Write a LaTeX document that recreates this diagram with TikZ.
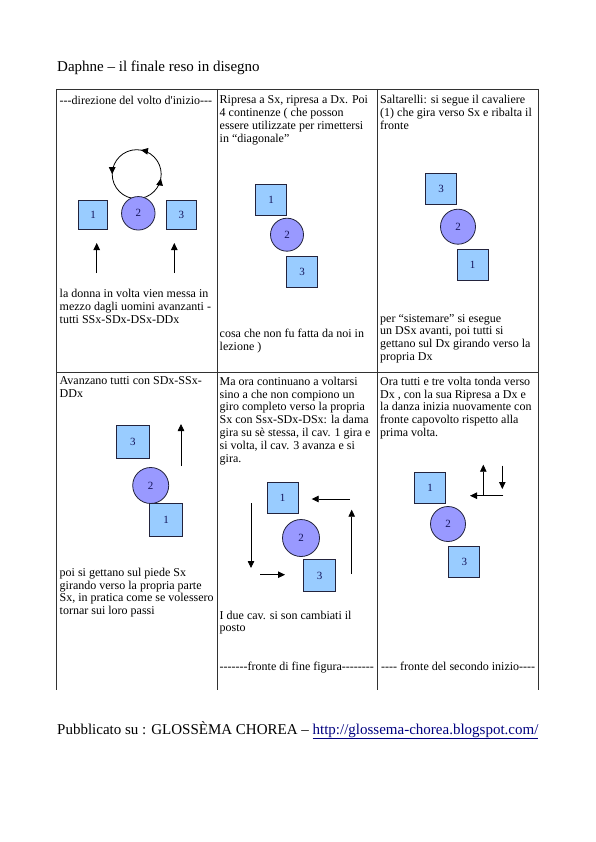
\documentclass[tikz,border=0pt]{standalone}
\usepackage{fontspec}
\setmainfont{Liberation Serif}[Ligatures=TeXOff]
\usetikzlibrary{arrows.meta}
\definecolor{sqfill}{RGB}{153,204,255}
\definecolor{cfill}{RGB}{153,153,255}
\definecolor{shapeline}{RGB}{35,35,60}
\definecolor{numcol}{RGB}{20,20,90}
\definecolor{linkcol}{RGB}{0,0,128}
\definecolor{rulecol}{RGB}{50,50,50}
\begin{document}
\begin{tikzpicture}[x=1pt,y=-1pt,
  sq/.style={draw=shapeline, line width=0.8pt, fill=sqfill, minimum size=31pt, inner sep=0pt, text=numcol, font=\fontsize{11}{13}\selectfont},
  dama/.style={circle, draw=shapeline, line width=0.8pt, fill=cfill, minimum size=35pt, inner sep=0pt, text=numcol, font=\fontsize{11}{13}\selectfont},
  arr/.style={line width=0.8pt, -{Triangle[length=7pt,width=6.5pt]}},
  ctext/.style={anchor=north west, inner sep=0pt, align=left, font=\fontsize{12}{12.8}\selectfont},
  gridline/.style={draw=rulecol, line width=0.9pt}
]
\useasboundingbox[fill=white] (0,0) rectangle (595,842);

% title
\node[anchor=base west, inner sep=0pt, font=\fontsize{15}{17}\selectfont] (title) at (57,72) {Daphne – il finale reso in disegno};

% table grid
\draw[gridline] (56.7,89) -- (538.5,89);
\draw[gridline] (56.7,372) -- (538.5,372);
\draw[gridline] (56.7,89) -- (56.7,690);
\draw[gridline] (217,89) -- (217,690);
\draw[gridline] (377,89) -- (377,690);
\draw[gridline] (538.5,89) -- (538.5,690);

% ---------- row 1, cell 1
\node[ctext] (t11) at (59.5,95.8) {---direzione del volto d'inizio---};
\coordinate (loop) at (136.7,174.2);
\draw[line width=0.8pt] (loop) circle[radius=24.5pt];
\draw[arr] ([shift={(62:24.5pt)}]loop) arc[start angle=62, end angle=80, radius=24.5pt];
\draw[arr] ([shift={(162:24.5pt)}]loop) arc[start angle=162, end angle=180, radius=24.5pt];
\draw[arr] ([shift={(-28:24.5pt)}]loop) arc[start angle=-28, end angle=-10, radius=24.5pt];
\node[sq, minimum size=29.5pt] (a1) at (93,215) {1};
\node[dama, minimum size=33.5pt] (a2) at (138.3,213.3) {2};
\node[sq, minimum size=29.5pt] (a3) at (181.3,215) {3};
\coordinate (a1s) at (96.7,273); \coordinate (a1e) at (96.7,243);
\coordinate (a3s) at (174.3,273); \coordinate (a3e) at (174.3,243);
\draw[arr] (a1s) -- (a1e);
\draw[arr] (a3s) -- (a3e);
\node[ctext] (b11) at (59.5,289) {la donna in volta vien messa in\\mezzo dagli uomini avanzanti -\\tutti SSx-SDx-DSx-DDx};

% ---------- row 1, cell 2
\node[ctext] (t12) at (219.5,95.8) {Ripresa a Sx, ripresa a Dx. Poi\\4 continenze ( che posson\\essere utilizzate per rimettersi\\in “diagonale”};
\node[sq] (b1) at (271,199.7) {1};
\node[dama, minimum size=33pt] (b2) at (287,234.7) {2};
\node[sq] (b3) at (302,271.5) {3};
\node[ctext] (b12) at (219.5,329) {cosa che non fu fatta da noi in\\lezione )};

% ---------- row 1, cell 3
\node[ctext] (t13) at (380,95.3) {Saltarelli: si segue il cavaliere\\(1) che gira verso Sx e ribalta il\\fronte};
\node[sq] (c3) at (441,189) {3};
\node[dama] (c2) at (458,226.7) {2};
\node[sq] (c1) at (472.5,264.5) {1};
\node[ctext] (b13) at (380,314) {per “sistemare” si esegue\\un DSx avanti, poi tutti si\\gettano sul Dx girando verso la\\propria Dx};

% ---------- row 2, cell 1
\node[ctext] (t21) at (59.5,376.8) {Avanzano tutti con SDx-SSx-\\DDx};
\node[sq, minimum size=32.5pt] (d3) at (132.8,441.7) {3};
\node[dama, minimum size=36pt] (d2) at (150.7,485.5) {2};
\node[sq, minimum size=32.5pt] (d1) at (166,519.7) {1};
\coordinate (d4s) at (181,466); \coordinate (d4e) at (181,424);
\draw[arr] (d4s) -- (d4e);
\node[ctext] (b21) at (59.5,567.8) {poi si gettano sul piede Sx\\girando verso la propria parte\\Sx, in pratica come se volessero\\tornar sui loro passi};

% ---------- row 2, cell 2
\node[ctext] (t22) at (219.5,376.8) {Ma ora continuano a voltarsi\\sino a che non compiono un\\giro completo verso la propria\\Sx con Ssx-SDx-DSx: la dama\\gira su sè stessa, il cav. 1 gira e\\si volta, il cav. 3 avanza e si\\gira.};
\node[sq, minimum size=30.5pt] (e1) at (282.7,498) {1};
\node[dama, minimum size=37pt] (e2) at (301,538) {2};
\node[sq, minimum size=32pt] (e3) at (319.5,575.5) {3};
\coordinate (e4s) at (251,503); \coordinate (e4e) at (251,568);
\coordinate (e5s) at (260,574.7); \coordinate (e5e) at (285,574.7);
\coordinate (e6s) at (351.7,574); \coordinate (e6e) at (351.7,509.7);
\coordinate (e7s) at (350,499); \coordinate (e7e) at (311.7,499);
\draw[arr] (e4s) -- (e4e);
\draw[arr] (e5s) -- (e5e);
\draw[arr] (e6s) -- (e6e);
\draw[arr] (e7s) -- (e7e);
\node[ctext] (b22) at (219.5,610.5) {I due cav. si son cambiati il\\posto};
\node[ctext] (f22) at (219.5,661.8) {-------fronte di fine figura--------};

% ---------- row 2, cell 3
\node[ctext] (t23) at (380,376.8) {Ora tutti e tre volta tonda verso\\Dx , con la sua Ripresa a Dx e\\la danza inizia nuovamente con\\fronte capovolto rispetto alla\\prima volta.};
\node[sq] (f1) at (430,488) {1};
\node[dama] (f2) at (448,524) {2};
\node[sq] (f3) at (464.3,562) {3};
\coordinate (f4s) at (483.3,495.7); \coordinate (f4e) at (483.3,464.7);
\coordinate (f5s) at (502.3,465.7); \coordinate (f5e) at (502.3,489);
\coordinate (f6s) at (503.3,495.7); \coordinate (f6e) at (470,495.7);
\draw[arr] (f4s) -- (f4e);
\draw[arr] (f5s) -- (f5e);
\draw[arr] (f6s) -- (f6e);
\node[ctext] (f23) at (381,661.8) {---- fronte del secondo inizio----};

% footer
\node[anchor=base west, inner sep=0pt, font=\fontsize{15}{17}\selectfont] (foot) at (57,734) {Pubblicato su : GLOSSÈMA CHOREA – \textcolor{linkcol}{\underline{http://glossema-chorea.blogspot.com/}}};
\end{tikzpicture}
\end{document}
